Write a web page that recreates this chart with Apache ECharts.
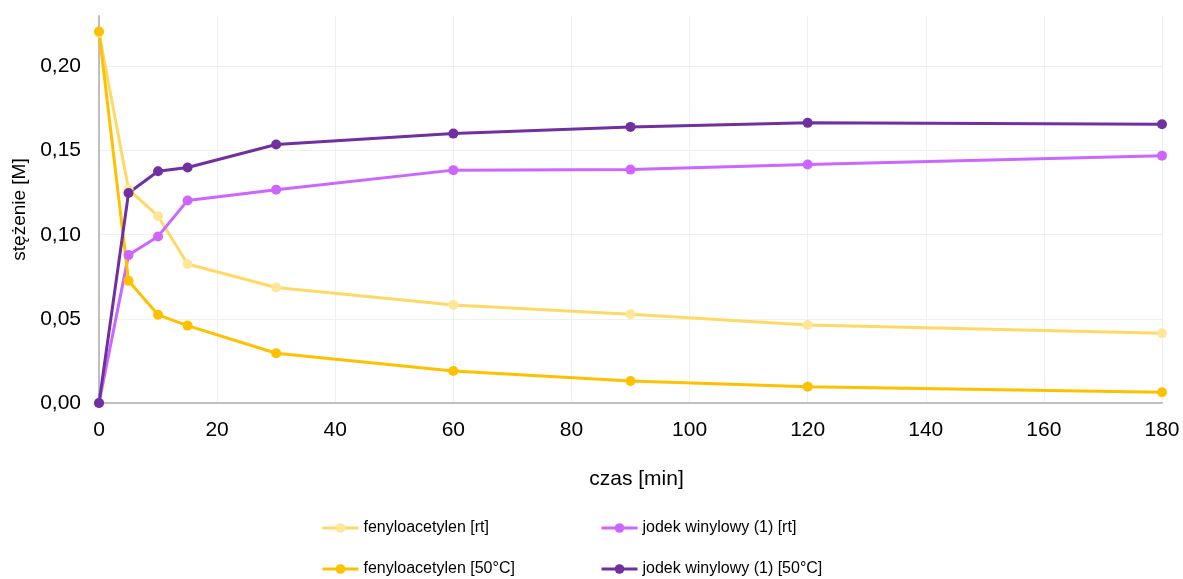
<!DOCTYPE html>
<html>
<head>
<meta charset="utf-8">
<script src="https://cdn.jsdelivr.net/npm/echarts@6/dist/echarts.min.js"></script>
<style>html,body{margin:0;padding:0;background:#fff}#c{width:1183px;height:579px}</style>
</head>
<body>
<div id="c"></div>
<script>
const times = [0, 5, 10, 15, 30, 60, 90, 120, 180];
const fenylRt = [0.220, 0.127, 0.111, 0.0826, 0.0686, 0.0583, 0.0527, 0.0464, 0.0415];
const jodekRt = [0.000, 0.0879, 0.0990, 0.1204, 0.1268, 0.1384, 0.1387, 0.1417, 0.1470];
const fenyl50 = [0.2208, 0.0726, 0.0524, 0.0460, 0.0296, 0.0190, 0.0131, 0.0097, 0.0064];
const jodek50 = [0.000, 0.1248, 0.1377, 0.1400, 0.1536, 0.1601, 0.1641, 0.1665, 0.1657];
const names = ['fenyloacetylen [rt]', 'jodek winylowy (1) [rt]', 'fenyloacetylen [50°C]', 'jodek winylowy (1) [50°C]'];

const pair = arr => times.map((t, i) => [t, arr[i]]);
const font = '"Liberation Sans", Arial, sans-serif';
const legFont = '"Liberation Sans", Arial, sans-serif';

function mk(name, data, lineColor, markColor) {
  return {
    name, type: 'line', data: pair(data),
    symbol: 'circle', symbolSize: 10,
    lineStyle: { color: lineColor, width: 3 },
    itemStyle: { color: markColor },
    color: lineColor
  };
}
function leg(name, left, top) {
  return {
    data: [name], orient: 'horizontal', left: left, top: top,
    itemWidth: 36, itemHeight: 12, itemGap: 0, padding: 0,
    lineStyle: { width: 3 },
    textStyle: { color: '#000', fontSize: 16, fontFamily: legFont }
  };
}

const chart = echarts.init(document.getElementById('c'), null, { renderer: 'canvas' });
chart.setOption({
  animation: false,
  backgroundColor: '#fff',
  grid: { left: 99, right: 21, top: 16, bottom: 176, containLabel: false, outerBoundsMode: 'none' },
  xAxis: {
    type: 'value', min: 0, max: 180, interval: 20,
    name: 'czas [min]', nameLocation: 'middle', nameGap: 66,
    nameTextStyle: { color: '#000', fontSize: 21, fontFamily: font, padding: [0, 0, 0, 12] },
    axisLine: { show: true, lineStyle: { color: '#bfbfbf', width: 2 } },
    axisTick: { show: false },
    axisLabel: { color: '#000', fontSize: 21, fontFamily: font, margin: 17 },
    splitLine: { show: true, lineStyle: { color: '#f0f0f0', width: 1 } }
  },
  yAxis: {
    type: 'value', min: 0, max: 0.23, interval: 0.05,
    name: 'stężenie [M]', nameLocation: 'middle', nameGap: 57, nameRotate: 90,
    nameTextStyle: { color: '#000', fontSize: 19, fontFamily: font },
    axisLine: { show: true, lineStyle: { color: '#bfbfbf', width: 2 } },
    axisTick: { show: false },
    axisLabel: {
      color: '#000', fontSize: 21, fontFamily: font, margin: 18, showMaxLabel: false,
      formatter: v => (Math.abs(v / 0.05 - Math.round(v / 0.05)) < 1e-6) ? v.toFixed(2).replace('.', ',') : ''
    },
    splitLine: { show: true, showMaxLine: false, lineStyle: { color: '#f0f0f0', width: 1 } }
  },
  legend: [
    leg(names[0], 321, 520),
    leg(names[1], 600, 520),
    leg(names[2], 321, 561),
    leg(names[3], 600, 561)
  ],
  series: [
    mk(names[0], fenylRt, '#FFD966', '#FFE699'),
    mk(names[1], jodekRt, '#CC66FF', '#CC66FF'),
    mk(names[2], fenyl50, '#FFC000', '#FFC000'),
    mk(names[3], jodek50, '#7030A0', '#7030A0')
  ]
});
</script>
</body>
</html>
